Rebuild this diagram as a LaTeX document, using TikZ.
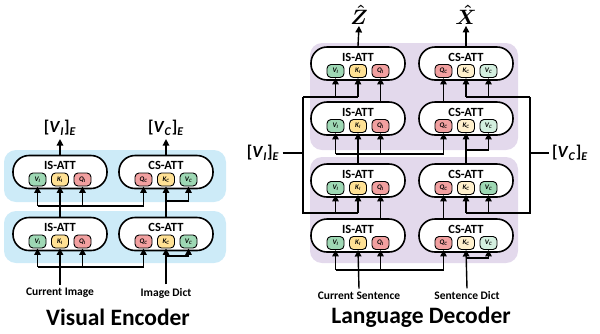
\documentclass[tikz,border=0pt]{standalone}
\usepackage{amsmath}
\usepackage{fontspec}
\setmainfont{Carlito}
\usetikzlibrary{arrows.meta}
\definecolor{encbg}{HTML}{CDEBF8}
\definecolor{decbg}{HTML}{E3D9EC}
\definecolor{vgreen}{HTML}{9ED8B4}
\definecolor{vlight}{HTML}{D3EFDF}
\definecolor{kyellow}{HTML}{FFE194}
\definecolor{klight}{HTML}{FFF0CC}
\definecolor{qred}{HTML}{F2A0A0}
\begin{document}
\begin{tikzpicture}[x=1pt,y=-1pt,
  att/.style={draw,line width=1.6pt,rounded corners=16pt,minimum width=94pt,minimum height=33pt,fill=white},
  key/.style={draw,line width=0.9pt,rounded corners=4pt,minimum width=17pt,minimum height=13pt,inner sep=0pt,font=\fontsize{7}{7}\selectfont\bfseries\itshape},
  ttl/.style={font=\fontsize{12.5}{13}\selectfont\bfseries,inner sep=0pt},
  lbl/.style={font=\fontsize{11.5}{12}\selectfont\bfseries},
  big/.style={font=\fontsize{23.5}{25}\selectfont\bfseries},
  emb/.style={font=\fontsize{17}{18}\selectfont\bfseries},
  hatlbl/.style={font=\fontsize{20}{22}\selectfont,inner sep=1pt},
  bgbox/.style={rounded corners=12pt},
  wire/.style={line width=1.4pt},
  arr/.style={wire,-{Triangle[length=6.5pt,width=6.5pt]}}]
\useasboundingbox (0,0) rectangle (600,333);
\fill[bgbox,encbg] (4,150) rectangle (226,202);
\fill[bgbox,encbg] (4,211) rectangle (226,263);
\fill[bgbox,decbg] (310,43) rectangle (518,150);
\fill[bgbox,decbg] (310,157) rectangle (518,263);
\foreach \n/\x/\y in {eis1/60/234,eis2/60/172,dis1/358/235.5,dis2/358/180.5,dis3/358/118.5,dis4/358/63.5}{
  \node[att] (\n) at (\x,\y) {};
  \node[ttl] (\n-t) at (\x,\y-6.5) {IS-ATT};
  \node[key,fill=vgreen] (\n-v) at (\x-22.5,\y+7.5) {V\textsubscript{I}};
  \node[key,fill=kyellow] (\n-k) at (\x,\y+7.5) {K\textsubscript{I}};
  \node[key,fill=qred] (\n-q) at (\x+22.5,\y+7.5) {Q\textsubscript{I}};
}
\foreach \n/\x/\y/\kc/\vc in {ecs1/166/234/kyellow/vgreen,ecs2/166/172/kyellow/vgreen,dcs1/466/235.5/klight/vlight,dcs2/466/180.5/klight/vgreen,dcs3/466/118.5/klight/vlight,dcs4/466/63.5/klight/vlight}{
  \node[att] (\n) at (\x,\y) {};
  \node[ttl] (\n-t) at (\x,\y-6.5) {CS-ATT};
  \node[key,fill=qred] (\n-q) at (\x-22.5,\y+7.5) {Q\textsubscript{C}};
  \node[key,fill=\kc] (\n-k) at (\x,\y+7.5) {K\textsubscript{C}};
  \node[key,fill=\vc] (\n-v) at (\x+22.5,\y+7.5) {V\textsubscript{C}};
}
\node[lbl] (cimg) at (60,293) {Current Image};
\node[lbl] (idict) at (166,293) {Image Dict};
\node[big] (venc) at (118,317) {Visual Encoder};
\node[emb] (vie) at (60,128) {[\textit{V}\textsubscript{\textit{I}}]\textsubscript{\textit{E}}};
\node[emb] (vce) at (166,128) {[\textit{V}\textsubscript{\textit{C}}]\textsubscript{\textit{E}}};
\coordinate (ein) at (0,267);
\coordinate (edin) at (0,256);
\coordinate (eis) at (0,206);
\coordinate (ecs) at (0,201);
\draw[arr] (cimg.north) -- (eis1-k.south);
\draw[wire] (eis1-v.south |- ein) -- (ecs1-q.south |- ein);
\foreach \k in {eis1-v,eis1-q,ecs1-q} \draw[arr] (\k.south |- ein) -- (\k.south);
\draw[arr] (idict.north) -- (ecs1-k.south);
\draw[wire] (ecs1-k.south |- edin) -- (ecs1-v.south |- edin);
\draw[arr] (ecs1-v.south |- edin) -- (ecs1-v.south);
\draw[arr] (eis1.north) -- (eis2-k.south);
\draw[wire] (eis2-v.south |- eis) -- (ecs2-q.south |- eis);
\foreach \k in {eis2-v,eis2-q,ecs2-q} \draw[arr] (\k.south |- eis) -- (\k.south);
\draw[arr] (ecs1.north) -- (ecs2-k.south);
\draw[wire] (ecs2-k.south |- ecs) -- (ecs2-v.south |- ecs);
\draw[arr] (ecs2-v.south |- ecs) -- (ecs2-v.south);
\draw[arr] (eis2.north) -- (vie.south);
\draw[arr] (ecs2.north) -- (vce.south);
\node[lbl] (csent) at (359,296) {Current Sentence};
\node[lbl] (sdict) at (467,296) {Sentence Dict};
\node[big] (ldec) at (421,317) {Language Decoder};
\node[hatlbl] (zhat) at (359,15) {$\boldsymbol{\hat{Z}}$};
\node[hatlbl] (xhat) at (466,15) {$\boldsymbol{\hat{X}}$};
\node[emb] (vie2) at (263,153) {[\textit{V}\textsubscript{\textit{I}}]\textsubscript{\textit{E}}};
\node[emb] (vce2) at (570,153) {[\textit{V}\textsubscript{\textit{C}}]\textsubscript{\textit{E}}};
\coordinate (din) at (0,270);
\coordinate (ddin) at (0,258);
\coordinate (dmid) at (0,154);
\coordinate (dmidc) at (0,150);
\coordinate (lt) at (303,97);
\coordinate (lb) at (303,213);
\coordinate (rt) at (530,97);
\coordinate (rb) at (530,213);
\draw[arr] (csent.north) -- (dis1-k.south);
\draw[wire] (dis1-v.south |- din) -- (dcs1-q.south |- din);
\foreach \k in {dis1-v,dis1-q,dcs1-q} \draw[arr] (\k.south |- din) -- (\k.south);
\draw[arr] (sdict.north) -- (dcs1-k.south);
\draw[wire] (dcs1-k.south |- ddin) -- (dcs1-v.south |- ddin);
\draw[arr] (dcs1-v.south |- ddin) -- (dcs1-v.south);
\draw[arr] (dis1-q.south |- dis1.north) -- (dis2-q.south);
\draw[arr] (dcs1-q.south |- dcs1.north) -- (dcs2-q.south);
\draw[wire] (lt) -- (lb) -- (dis2-k.south |- lb);
\draw[wire] (lt) -- (dis4-k.south |- lt);
\draw[wire] (rt) -- (rb) -- (dcs2-k.south |- rb);
\draw[wire] (rt) -- (dcs4-k.south |- rt);
\foreach \k in {dis2-v,dis2-k} \draw[arr] (\k.south |- lb) -- (\k.south);
\foreach \k in {dis4-v,dis4-k} \draw[arr] (\k.south |- lt) -- (\k.south);
\foreach \k in {dcs2-v,dcs2-k} \draw[arr] (\k.south |- rb) -- (\k.south);
\foreach \k in {dcs4-v,dcs4-k} \draw[arr] (\k.south |- rt) -- (\k.south);
\draw[arr] (dis2.north) -- (dis3-k.south);
\draw[wire] (dis3-v.south |- dmid) -- (dcs3-q.south |- dmid);
\foreach \k in {dis3-v,dis3-q,dcs3-q} \draw[arr] (\k.south |- dmid) -- (\k.south);
\draw[arr] (dcs2.north) -- (dcs3-k.south);
\draw[wire] (dcs3-k.south |- dmidc) -- (dcs3-v.south |- dmidc);
\draw[arr] (dcs3-v.south |- dmidc) -- (dcs3-v.south);
\draw[arr] (dis3-q.south |- dis3.north) -- (dis4-q.south);
\draw[arr] (dcs3-q.south |- dcs3.north) -- (dcs4-q.south);
\draw[arr] (dis4.north) -- (zhat.south);
\draw[arr] (dcs4.north) -- (xhat.south);
\draw[wire] (vie2.east) -- (vie2.east -| lt);
\draw[wire] (vce2.west) -- (vce2.west -| rt);
\end{tikzpicture}
\end{document}
